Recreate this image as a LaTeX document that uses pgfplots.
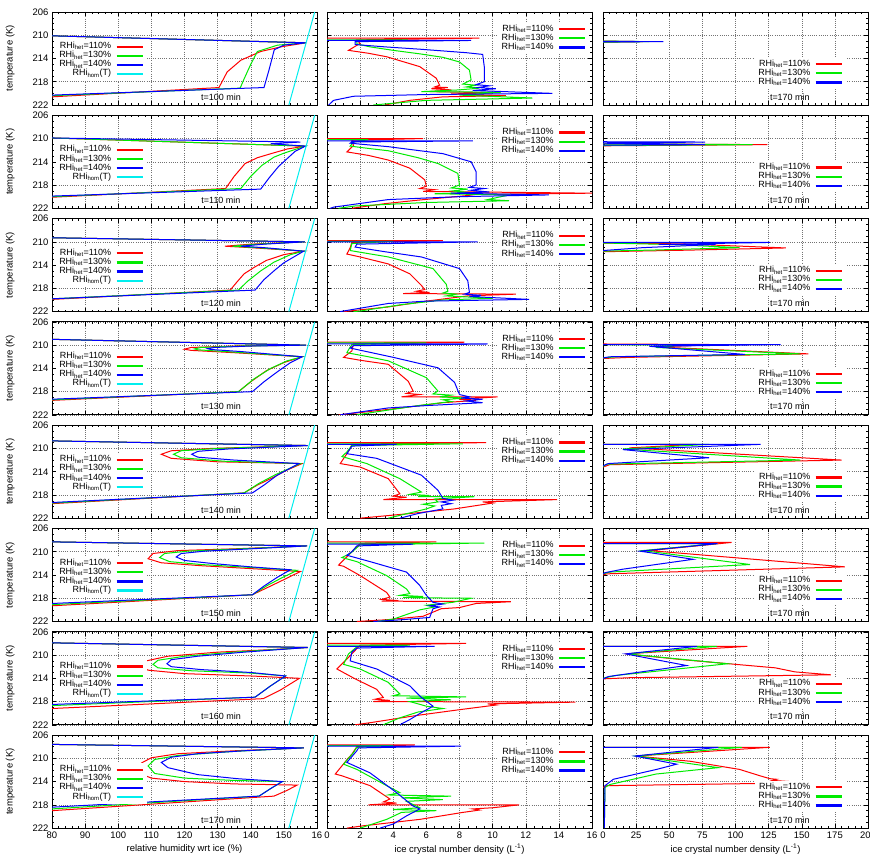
\documentclass[border=0pt]{standalone}
\usepackage{fontspec}
\setmainfont{Liberation Sans}
\usepackage{pgfplots}
\pgfplotsset{compat=1.18}
\definecolor{gred}{RGB}{255,0,0}
\definecolor{ggreen}{RGB}{0,235,0}
\definecolor{gblue}{RGB}{0,0,255}
\definecolor{gcyan}{RGB}{0,238,238}
\pgfplotsset{
  panel/.style={
    scale only axis, width=265bp, height=93bp,
    ymin=206, ymax=222, y dir=reverse,
    ytick={206,210,214,218,222}, minor y tick num=3,
    grid=major,
    major grid style={line width=0.5bp, black!55, dash pattern=on 0.7bp off 1.5bp},
    tick align=inside, major tick length=4bp, minor tick length=2bp,
    axis line style={line width=0.9bp},
    tick style={black, line width=0.5bp},
    xticklabels={}, yticklabels={},
    /pgf/number format/assume math mode=true,
    tick label style={font=\fontsize{9.5}{11}\selectfont},
    label style={font=\fontsize{9.5}{11}\selectfont},
    legend plot pos=right, legend cell align=right,
    legend image code/.code={\draw[#1,line width=2.2bp] (0bp,0bp) -- (26bp,0bp);},
    legend style={draw=none, fill=white, inner xsep=3bp, inner ysep=2bp, column sep=4bp, row sep=0pt,
      font=\fontsize{9}{10}\selectfont, nodes={inner sep=0.3bp, text height=6.2bp, text depth=2.3bp}},
    every axis plot/.append style={line width=1bp, no markers},
    clip=true,
  },
  c1/.style={panel, xmin=80, xmax=160, xtick={80,90,...,160}, minor x tick num=4,
    yticklabels={206,210,214,218,222}, ylabel={temperature (K)},
    y label style={at={(axis description cs:-0.158,0.5)}, anchor=center},
    legend style={at={(0.358,0.699)}, anchor=north east}},
  c2/.style={panel, xmin=0, xmax=16, xtick={0,2,...,16}, minor x tick num=3,
    legend style={at={(0.99,0.887)}, anchor=north east}},
  c3/.style={panel, xmin=0, xmax=200, xtick={0,25,...,200}, minor x tick num=4,
    legend style={at={(0.917,0.511)}, anchor=north east}},
  b1/.style={xticklabels={80,90,100,110,120,130,140,150,16}, xlabel={relative humidity wrt ice (\%)},
    x label style={at={(axis description cs:0.5,-0.225)}, anchor=center}},
  b2/.style={xticklabels={0,2,4,6,8,10,12,14,16}, xlabel={ice crystal number density (L\textsuperscript{-1})},
    x label style={at={(axis description cs:0.5,-0.225)}, anchor=center}},
  b3/.style={xticklabels={0,25,50,75,100,125,150,175,200}, xlabel={ice crystal number density (L\textsuperscript{-1})},
    x label style={at={(axis description cs:0.5,-0.225)}, anchor=center}},
}
\newcommand{\legA}{\legend{RHi\textsubscript{het}=110\%,RHi\textsubscript{het}=130\%,RHi\textsubscript{het}=140\%,RHi\textsubscript{hom}(T)}}
\newcommand{\legB}{\legend{RHi\textsubscript{het}=110\%,RHi\textsubscript{het}=130\%,RHi\textsubscript{het}=140\%}}
\newcommand{\cyanline}{\addplot[gcyan] coordinates {(151.5,222)(159.3,206)};}
\newcommand{\tlab}[1]{\node[font=\fontsize{9}{10}\selectfont] at (axis cs:131,220.6) {t=#1 min};}
\newcommand{\tlabc}{\node[font=\fontsize{9}{10}\selectfont] at (axis cs:141,220.6) {t=170 min};}
\begin{document}
\begin{tikzpicture}
\useasboundingbox (0,0) rectangle (870bp,854bp);
% ================= ROW 1 =================
\begin{axis}[c1, at={(52bp,749bp)}, anchor=south west]
\addplot[gred] coordinates {(80,220.6)(130.4,219.0)(132.9,216.3)(137,214.3)(143,212.8)(149.1,212.0)(156.7,211.3)(80,210.1)};
\addplot[ggreen] coordinates {(80,220.4)(136.8,219.1)(138,217.5)(140,215)(142,212.8)(148.1,211.7)(156.7,211.3)(80,210.1)};
\addplot[gblue] coordinates {(80,220.3)(144,219.0)(145.5,216)(147.1,212.5)(150,211.7)(156.7,211.3)(80,210.1)};
\cyanline
\legA
\tlab{100}
\end{axis}
\begin{axis}[c2, at={(327bp,749bp)}, anchor=south west]
\addplot[gred] coordinates {(0,210.5)(9.2,210.5)(1.8,210.8)(2.0,211.4)(1.3,212.6)(2.5,213.1)(3.6,213.7)(5.6,215.4)(6.6,217.4)(6.8,218.6)(6.5,218.9)(7.3,219.0)(6.3,219.2)(7.5,219.4)(6.2,219.7)(10.0,219.9)(7.5,220.1)(10.8,220.4)(7.0,220.6)(5.0,221.2)(3.5,222)};
\addplot[ggreen] coordinates {(0,210.8)(4.9,210.8)(1.8,211.0)(1.8,211.5)(2.6,212.0)(4.0,212.6)(5.6,213.2)(7.0,213.8)(8.0,214.6)(8.6,216.0)(8.7,217.7)(8.2,218.4)(9.0,218.6)(8.4,218.9)(9.2,219.1)(8.0,219.4)(5.7,219.7)(10.5,219.8)(8.0,220.3)(12.4,220.8)(6.0,221.2)(3.6,221.8)(2.8,222)};
\addplot[gblue] coordinates {(0,210.9)(8.7,210.9)(1.7,211.1)(1.7,211.6)(3.5,212.0)(5.6,212.4)(8.4,213.0)(9.4,213.3)(9.5,215.5)(9.5,218.0)(9.0,218.5)(9.8,218.7)(9.1,219.0)(10.2,219.2)(8.8,219.5)(13.6,220.0)(6.0,220.2)(1.6,220.5)(0.4,221.2)(0.1,222)};
\legB
\end{axis}
\begin{axis}[c3, at={(603bp,749bp)}, anchor=south west]
\addplot[gred] coordinates {(0,211.0)(30,211.1)(0,211.2)};
\addplot[ggreen] coordinates {(0,211.0)(35,211.1)(0,211.2)};
\addplot[gblue] coordinates {(0,211.05)(45.5,211.1)(0,211.15)};
\legB
\tlabc
\end{axis}
% ================= ROW 2 =================
\begin{axis}[c1, at={(52bp,645.7bp)}, anchor=south west]
\addplot[gred] coordinates {(80,220.1)(132.4,218.6)(135,216.5)(138.3,214.3)(142,213.3)(146.7,212.5)(151,211.8)(156.5,211.3)(80,209.9)};
\addplot[ggreen] coordinates {(80,220.0)(137,218.6)(140,216.5)(143.4,214.6)(147,213.2)(150.1,212.5)(156.5,211.3)(80,209.9)};
\addplot[gblue] coordinates {(80,219.9)(143,218.7)(145.5,216.8)(148.4,214.8)(153.4,212.2)(156.5,211.3)(146,210.9)(155,210.6)(80,209.9)};
\cyanline
\legA
\tlab{110}
\end{axis}
\begin{axis}[c2, at={(327bp,645.7bp)}, anchor=south west]
\addplot[gred] coordinates {(0,210.0)(5.8,210.0)(1.5,210.3)(1.6,211.2)(1.2,212.3)(2.5,212.9)(3.7,213.7)(5.0,215.1)(5.9,217.1)(6.0,218.2)(5.6,218.6)(6.5,218.8)(5.8,219.1)(16,219.4)(9.0,219.6)(8.5,219.8)(5.5,220.6)(3.5,221.2)(1.5,222)};
\addplot[ggreen] coordinates {(0,210.2)(2.5,210.2)(1.6,210.6)(1.4,211.3)(2.5,211.7)(3.7,212.1)(5.5,213.3)(6.7,214.3)(7.9,216.0)(8.0,218.0)(7.5,218.5)(8.5,218.7)(7.6,219.0)(8.6,219.3)(6.5,219.5)(11.0,219.7)(9.7,220.5)(11.0,220.7)(6.0,221.0)(1.7,221.6)(0.7,222)};
\addplot[gblue] coordinates {(0,210.4)(8.8,210.4)(1.5,210.6)(1.4,210.8)(3.7,211.4)(7.0,212.6)(8.7,214.0)(9.0,215.7)(9.0,218.0)(8.6,218.4)(9.5,218.6)(8.7,218.9)(9.8,219.2)(7.5,219.4)(13.4,219.7)(8.0,220.0)(3.7,220.5)(0.4,221.8)(0.2,222)};
\legB
\end{axis}
\begin{axis}[c3, at={(603bp,645.7bp)}, anchor=south west]
\addplot[gred] coordinates {(0,210.9)(124,211.05)(0,211.25)};
\addplot[ggreen] coordinates {(0,210.9)(113,211.05)(0,211.2)};
\addplot[gblue] coordinates {(0,210.55)(77,210.6)(0,210.8)(77,211.05)(0,211.15)};
\legB
\tlabc
\end{axis}
% ================= ROW 3 =================
\begin{axis}[c1, at={(52bp,542.4bp)}, anchor=south west]
\addplot[gred] coordinates {(80,219.9)(133.8,218.3)(136,216.8)(138,215.5)(141,214.4)(144.7,213.2)(150,212.2)(156,211.6)(140,211.0)(132.2,210.75)(140,210.4)(156.3,210.0)(80,209.3)};
\addplot[ggreen] coordinates {(80,219.8)(136.3,218.3)(139,216.8)(143,215.0)(147,213.5)(152,212.2)(156,211.6)(142,211.0)(134.5,210.75)(142,210.4)(156.3,210.0)(80,209.3)};
\addplot[gblue] coordinates {(80,219.8)(141.3,218.3)(144,216.5)(147.2,214.9)(150,213.6)(153,212.6)(156,211.6)(144,211.0)(137,210.75)(144,210.4)(156.3,210.0)(80,209.3)};
\cyanline
\legA
\tlab{120}
\end{axis}
\begin{axis}[c2, at={(327bp,542.4bp)}, anchor=south west]
\addplot[gred] coordinates {(0,209.8)(7.0,209.8)(1.5,210.1)(1.4,211.0)(1.2,212.1)(2.0,212.6)(3.7,213.8)(5.0,215.5)(5.7,217.5)(5.9,218.2)(5.4,218.5)(6.2,218.7)(4.6,218.9)(11.4,219.0)(8.5,219.3)(6.0,220.2)(3.7,221.2)(1.0,222)};
\addplot[ggreen] coordinates {(0,209.9)(4.0,209.9)(1.5,210.3)(1.4,211.5)(3.7,212.6)(6.4,214.6)(7.2,217.3)(7.3,218.5)(7.0,218.8)(7.8,219.0)(7.2,219.3)(10.0,219.7)(7.0,220.0)(4.5,220.8)(2.0,221.9)(1.6,222)};
\addplot[gblue] coordinates {(0,210.0)(9.1,210.0)(1.8,210.4)(1.7,210.9)(3.5,211.7)(5.7,212.6)(8.0,214.6)(8.5,216.7)(8.6,218.7)(8.3,219.0)(9.3,219.2)(8.6,219.4)(12.2,219.9)(6.0,220.2)(3.7,220.6)(1.0,221.9)(0.8,222)};
\legB
\end{axis}
\begin{axis}[c3, at={(603bp,542.4bp)}, anchor=south west]
\addplot[gred] coordinates {(0,210.2)(60,210.35)(138,211.05)(60,211.45)(0,211.7)};
\addplot[ggreen] coordinates {(0,210.2)(50,210.45)(103,211.0)(40,211.4)(0,211.6)};
\addplot[gblue] coordinates {(0,210.1)(126,210.1)(42,210.45)(85,210.45)(30,211.0)(0,211.5)};
\legB
\tlabc
\end{axis}
% ================= ROW 4 =================
\begin{axis}[c1, at={(52bp,439.1bp)}, anchor=south west]
\addplot[gred] coordinates {(80,219.5)(136.3,218.0)(140,216.3)(144.7,214.4)(150,213.0)(155.5,212.0)(135,211.3)(122,210.9)(120,210.7)(122,210.4)(135,210.15)(156.7,210.0)(80,209.0)};
\addplot[ggreen] coordinates {(80,219.4)(136.3,218.0)(141,215.8)(146,214.0)(151,212.7)(155.5,212.0)(135,211.2)(124,210.8)(123,210.65)(125,210.4)(137,210.15)(156.7,210.0)(80,209.0)};
\addplot[gblue] coordinates {(80,219.3)(140.5,218.0)(144,216.3)(148,214.6)(152,213.0)(155.5,212.0)(137,211.1)(128,210.75)(127,210.6)(129,210.4)(140,210.15)(156.7,210.0)(80,209.0)};
\cyanline
\legA
\tlab{130}
\end{axis}
\begin{axis}[c2, at={(327bp,439.1bp)}, anchor=south west]
\addplot[gred] coordinates {(0,209.5)(8.3,209.5)(1.6,209.8)(1.5,211.0)(1.0,212.1)(2.0,212.6)(3.7,213.3)(4.9,216.2)(5.2,217.9)(4.8,218.3)(5.6,218.5)(4.5,218.9)(10.3,218.9)(8.0,219.3)(9.0,219.5)(7.0,219.9)(4.5,220.8)(2.0,221.6)(0.7,222)};
\addplot[ggreen] coordinates {(0,209.6)(6.0,209.6)(1.5,209.9)(1.3,210.8)(1.2,211.3)(2.5,212.0)(3.7,212.7)(6.0,215.6)(6.7,217.9)(6.4,218.4)(7.5,218.6)(6.8,218.9)(8.3,219.1)(7.0,219.4)(7.5,219.7)(5.5,220.4)(2.0,221.9)(1.8,222)};
\addplot[gblue] coordinates {(0,209.8)(9.7,209.8)(1.6,210.1)(1.4,210.5)(4.0,212.1)(6.7,213.9)(7.7,216.4)(8.0,218.5)(8.6,218.9)(8.1,219.1)(9.4,219.3)(8.4,219.6)(9.4,219.9)(6.0,220.4)(3.7,220.8)(1.0,221.9)(0.8,222)};
\legB
\end{axis}
\begin{axis}[c3, at={(603bp,439.1bp)}, anchor=south west]
\addplot[gred] coordinates {(0,209.8)(90,209.9)(40,210.3)(155,211.5)(20,212.1)(0,212.3)};
\addplot[ggreen] coordinates {(0,209.9)(60,210.0)(40,210.4)(149,211.5)(10,212.0)(0,212.2)};
\addplot[gblue] coordinates {(0,209.9)(134,209.9)(35,210.2)(107,211.6)(5,212.0)(0,212.2)};
\legB
\tlabc
\end{axis}
% ================= ROW 5 =================
\begin{axis}[c1, at={(52bp,335.8bp)}, anchor=south west]
\addplot[gred] coordinates {(80,219.5)(138,217.65)(142,216.3)(146.7,215.0)(151,213.7)(155.5,212.6)(130,212.3)(116,211.7)(113,211.0)(116,210.4)(128,210.0)(157.2,209.5)(80,208.7)};
\addplot[ggreen] coordinates {(80,219.4)(138,217.65)(142.5,216.0)(147.5,214.5)(155,212.6)(132,212.2)(119,211.6)(116.7,211.0)(119,210.4)(130,210.0)(157.2,209.5)(80,208.7)};
\addplot[gblue] coordinates {(80,219.3)(140.5,217.65)(144,216.3)(148,214.6)(154.5,212.6)(135,212.0)(124,211.5)(122.2,211.0)(124,210.5)(133,210.1)(157.2,209.5)(80,208.7)};
\cyanline
\legA
\tlab{140}
\end{axis}
\begin{axis}[c2, at={(327bp,335.8bp)}, anchor=south west]
\addplot[gred] coordinates {(0,209.0)(9.6,209.0)(1.5,209.3)(1.4,210.0)(1.2,210.9)(0.8,212.6)(2.0,213.2)(3.7,215.2)(4.4,217.8)(4.0,218.2)(4.8,218.4)(3.4,218.8)(13.9,218.8)(9.4,219.2)(10.0,219.4)(7.7,220.4)(5.0,221.2)(2.0,222)};
\addplot[ggreen] coordinates {(0,209.2)(8.2,209.2)(1.5,209.5)(1.2,210.6)(0.9,211.4)(2.4,212.6)(4.4,215.2)(5.7,217.5)(5.0,217.9)(6.2,218.1)(5.5,218.3)(8.9,218.3)(6.5,218.7)(6.7,219.2)(5.8,219.6)(6.5,219.9)(6.0,220.4)(3.7,222)};
\addplot[gblue] coordinates {(0,209.3)(4.2,209.3)(1.5,209.6)(1.2,210.9)(3.0,211.7)(5.7,214.6)(6.7,217.2)(7.0,218.6)(7.6,218.9)(6.9,219.2)(7.5,219.5)(6.9,219.8)(7.0,220.4)(5.5,221.2)(4.4,222)};
\legB
\end{axis}
\begin{axis}[c3, at={(603bp,335.8bp)}, anchor=south west]
\addplot[gred] coordinates {(0,209.3)(70,209.3)(20,209.9)(180,212.0)(5,212.8)(0,213.2)};
\addplot[ggreen] coordinates {(0,209.3)(80,209.3)(15,210.1)(149,212.0)(3,212.7)(0,213.1)};
\addplot[gblue] coordinates {(0,209.3)(119,209.3)(15,210.2)(80,211.6)(4,212.6)(0,213.0)};
\legB
\tlabc
\end{axis}
% ================= ROW 6 =================
\begin{axis}[c1, at={(52bp,232.5bp)}, anchor=south west]
\addplot[gred] coordinates {(80,219.3)(140.5,217.4)(146,215.9)(150,214.8)(155,213.4)(140,212.9)(125,212.4)(113,211.9)(109,211.2)(110.5,210.3)(118,209.8)(135,209.5)(157,209.0)(80,208.3)};
\addplot[ggreen] coordinates {(80,219.1)(140.5,217.4)(145,215.8)(149,214.6)(154,213.2)(140,212.7)(125,212.2)(115.5,211.7)(112.5,211.0)(114,210.3)(121,209.9)(137,209.5)(157,209.0)(80,208.3)};
\addplot[gblue] coordinates {(80,218.9)(140.5,217.4)(144,215.9)(148,214.4)(152,213.1)(140,212.6)(128,212.0)(120,211.5)(117.5,210.9)(119,210.3)(126,209.9)(140,209.5)(157,209.0)(80,208.3)};
\cyanline
\legA
\tlab{150}
\end{axis}
\begin{axis}[c2, at={(327bp,232.5bp)}, anchor=south west]
\addplot[gred] coordinates {(0,208.3)(6.6,208.3)(2.0,208.6)(1.6,209.7)(0.7,212.3)(1.0,212.5)(2.0,214.1)(3.6,217.0)(3.8,217.8)(3.3,218.2)(4.3,218.4)(3.3,218.5)(11.1,218.6)(9.0,218.9)(8.0,219.6)(6.9,219.8)(5.8,221.1)(3.6,221.7)(1.8,222)};
\addplot[ggreen] coordinates {(0,208.5)(9.5,208.5)(2.0,208.8)(1.4,210.3)(0.9,211.0)(1.8,211.7)(3.6,214.1)(4.8,216.4)(5.0,217.2)(4.4,217.5)(5.8,217.7)(4.6,217.9)(8.7,218.0)(7.6,218.7)(6.0,219.2)(6.5,219.5)(5.6,220.0)(4.0,221.6)(3.0,222)};
\addplot[gblue] coordinates {(0,208.7)(5.2,208.7)(1.8,209.0)(1.5,210.0)(1.2,210.6)(2.6,211.7)(4.8,213.5)(5.6,215.8)(6.0,217.5)(6.4,218.7)(7.0,219.0)(6.2,219.3)(6.8,219.5)(6.4,219.8)(6.2,221.3)(4.5,221.7)(2.8,222)};
\legB
\end{axis}
\begin{axis}[c3, at={(603bp,232.5bp)}, anchor=south west]
\addplot[gred] coordinates {(0,208.4)(97,208.4)(35,209.8)(182.6,212.6)(3,213.8)(0,214.0)};
\addplot[ggreen] coordinates {(0,208.6)(86,208.6)(30,209.8)(111,212.2)(5,213.5)(0,213.8)};
\addplot[gblue] coordinates {(0,208.6)(86.5,208.6)(28,209.9)(68,211.3)(15,213.0)(1.5,213.6)(0,213.8)};
\legB
\tlabc
\end{axis}
% ================= ROW 7 =================
\begin{axis}[c1, at={(52bp,129.2bp)}, anchor=south west]
\addplot[gred] coordinates {(80,219.2)(143.8,217.5)(149,216.0)(154.7,214.0)(140,213.6)(120,213.2)(109,212.6)(107.2,212.0)(108.5,211.0)(115,210.2)(130,209.5)(145,209.1)(157.2,208.7)(80,207.9)};
\addplot[ggreen] coordinates {(80,218.7)(141.3,217.25)(146,215.3)(150.5,213.6)(140,213.1)(122,212.7)(112,212.2)(110.5,211.6)(112,210.9)(120,210.2)(135,209.5)(157.2,208.7)(80,207.9)};
\addplot[gblue] coordinates {(80,218.5)(141.3,217.25)(146,215.3)(150.5,213.6)(140,213.0)(125,212.5)(116,212.0)(114.7,211.5)(116,210.8)(124,210.2)(138,209.5)(157.2,208.7)(80,207.9)};
\cyanline
\legA
\tlab{160}
\end{axis}
\begin{axis}[c2, at={(327bp,129.2bp)}, anchor=south west]
\addplot[gred] coordinates {(0,208.0)(8.4,208.0)(2.0,208.3)(1.4,210.1)(0.6,212.4)(1.7,214.1)(3.0,215.9)(3.4,217.3)(2.9,217.6)(3.8,217.8)(2.8,218.0)(15.0,218.1)(9.7,218.4)(10.2,218.6)(8.0,219.4)(5.4,220.4)(2.7,221.6)(1.7,222)};
\addplot[ggreen] coordinates {(0,208.3)(5.0,208.3)(1.8,208.6)(1.3,209.8)(1.0,211.6)(2.0,212.4)(3.7,214.7)(4.4,216.7)(4.0,217.0)(8.4,217.2)(4.8,217.4)(7.5,217.7)(5.0,218.0)(6.0,218.8)(7.0,219.2)(5.5,219.8)(4.4,220.8)(3.4,222)};
\addplot[gblue] coordinates {(0,208.5)(6.5,208.5)(1.8,208.8)(1.5,209.5)(1.4,211.0)(3.0,212.4)(5.0,215.3)(5.7,217.3)(6.4,218.8)(5.7,219.9)(5.0,221.1)(4.4,222)};
\legB
\end{axis}
\begin{axis}[c3, at={(603bp,129.2bp)}, anchor=south west]
\addplot[gred] coordinates {(0,208.5)(109,208.5)(17,209.8)(60,210.8)(130,212.2)(145,212.9)(172,213.4)(20,213.9)(0,214.1)};
\addplot[ggreen] coordinates {(0,208.5)(86,208.5)(18,209.8)(94,211.5)(10,213.5)(0,214.0)};
\addplot[gblue] coordinates {(0,208.5)(71,208.5)(17,209.8)(63,211.8)(4,213.7)(0,214.1)};
\legB
\tlabc
\end{axis}
% ================= ROW 8 =================
\begin{axis}[c1, b1, at={(52bp,25.9bp)}, anchor=south west]
\addplot[gred] coordinates {(80,219.0)(147,216.5)(151,215.5)(154,214.6)(135,214.4)(120,214.0)(110,213.4)(106.5,212.6)(106,211.9)(107,210.8)(110,209.9)(118,209.2)(135,208.7)(156,208.2)(80,207.6)};
\addplot[ggreen] coordinates {(80,218.7)(142.5,216.5)(146,215.2)(149.5,214.0)(135,213.8)(120,213.4)(111,212.6)(109,211.3)(111,210.2)(118,209.5)(135,208.8)(156,208.2)(80,207.6)};
\addplot[gblue] coordinates {(80,218.4)(142.5,216.5)(146,215.2)(149.5,214.0)(136,213.5)(124,212.8)(115,211.6)(113,210.7)(116,209.8)(124,209.2)(138,208.7)(156,208.2)(80,207.6)};
\cyanline
\legA
\tlab{170}
\end{axis}
\begin{axis}[c2, b2, at={(327bp,25.9bp)}, anchor=south west]
\addplot[gred] coordinates {(0,207.7)(5.3,207.7)(1.8,208.0)(1.5,209.3)(1.3,209.9)(0.5,212.7)(0.9,213.0)(2.6,214.7)(3.8,217.0)(3.4,217.5)(4.2,217.7)(2.5,218.0)(11.6,218.0)(10.0,218.5)(8.8,218.7)(9.2,218.9)(8.2,219.3)(5.6,220.5)(2.2,221.6)(1.2,222)};
\addplot[ggreen] coordinates {(0,207.8)(4.0,207.8)(1.8,208.1)(1.6,209.0)(1.0,211.0)(1.8,211.9)(3.6,214.7)(4.4,215.9)(3.7,216.3)(7.5,216.5)(4.5,216.8)(7.0,217.1)(4.8,217.4)(5.6,218.5)(4.0,218.8)(6.6,219.0)(4.5,219.3)(3.6,220.5)(2.0,222)};
\addplot[gblue] coordinates {(0,207.9)(8.1,207.9)(1.9,208.2)(1.8,208.7)(1.2,210.7)(2.6,212.5)(4.2,215.9)(5.2,218.2)(5.6,218.7)(4.8,219.9)(4.0,221.3)(3.2,222)};
\legB
\end{axis}
\begin{axis}[c3, b3, at={(603bp,25.9bp)}, anchor=south west]
\addplot[gred] coordinates {(0,208.1)(126,208.1)(25,209.6)(65.7,210.5)(103,211.9)(118.5,213.0)(126,213.5)(131,213.6)(128,213.8)(155,214.2)(3,214.7)(0,215)};
\addplot[ggreen] coordinates {(0,208.1)(104.7,208.1)(25,209.6)(87,211.6)(40,212.7)(5.3,214.5)(1.5,215)(1,222)};
\addplot[gblue] coordinates {(0,208.1)(87,208.1)(24,209.6)(55.6,211.0)(40.5,211.9)(7.8,213.6)(1.5,214.7)(1,222)};
\legB
\tlabc
\end{axis}
\end{tikzpicture}
\end{document}
